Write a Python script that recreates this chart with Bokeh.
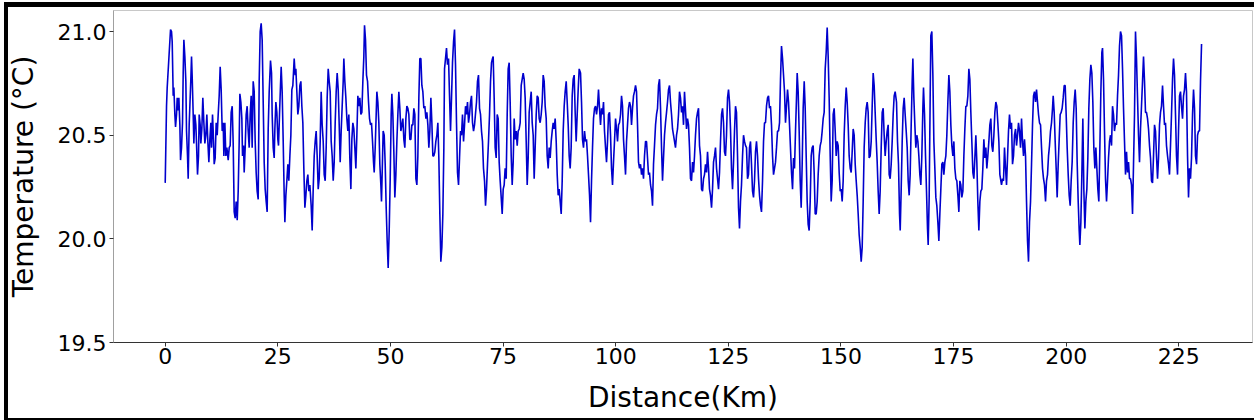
from bokeh.plotting import figure
from bokeh.models import FixedTicker, PrintfTickFormatter, Range1d
from bokeh.embed import file_html
from bokeh.resources import INLINE

# Distance (km) / temperature (deg C), segment by segment
dist_a = [0.0,0.29,0.44,0.81,1.18,1.40,1.55,1.77,1.92,2.14,2.29,2.51,2.66,2.88,3.03,3.25,3.40,3.62,3.84,3.99,4.14,4.36,4.58,4.73,4.95,5.10,5.32,5.47,5.69,5.84,5.99,6.21,6.36,6.58,6.80,6.95,7.17,7.39,7.54,7.76,7.91,8.13,8.35,8.58,8.80,9.02,9.24,9.46,9.69,9.91,10.13,10.28,10.50,10.65,10.87,11.09,11.31,11.54,11.76,11.98,12.20,12.42,12.65,12.87,13.02,13.24,13.46,13.68,13.98,14.20,14.42,14.64,14.87,15.09,15.31,15.53,15.75,15.98,16.20,16.42,16.57,16.79,17.01,17.16,17.38,17.53,17.75,17.97,18.19,18.42,18.64,18.86,19.08,19.30,19.53,19.75,19.97,20.19,20.41,20.64,20.86,21.08,21.30,21.52,21.75,21.97,22.19,22.41,22.63,22.86,23.08]
temp_a = [20.27,20.64,20.73,20.87,21.01,21.00,20.95,20.69,20.73,20.60,20.54,20.60,20.68,20.62,20.68,20.55,20.38,20.44,20.56,20.80,20.96,20.88,20.76,20.52,20.40,20.29,20.55,20.64,20.77,20.88,20.78,20.60,20.46,20.60,20.55,20.46,20.31,20.40,20.60,20.55,20.46,20.53,20.68,20.56,20.46,20.50,20.60,20.47,20.37,20.48,20.56,20.44,20.60,20.52,20.36,20.39,20.56,20.50,20.60,20.69,20.83,20.72,20.52,20.56,20.40,20.56,20.40,20.44,20.38,20.44,20.45,20.61,20.64,20.46,20.13,20.10,20.18,20.09,20.23,20.47,20.70,20.66,20.58,20.40,20.45,20.32,20.44,20.60,20.64,20.52,20.44,20.60,20.69,20.44,20.76,20.71,20.47,20.32,20.23,20.19,20.76,21.00,21.04,20.96,20.66,20.37,20.24,20.18,20.13,20.53,20.71]

dist_b = [23.37,23.60,23.74,23.97,24.19,24.34,24.56,24.78,25.00,25.15,25.37,25.59,25.74,25.96,26.19,26.41,26.56,26.78,27.00,27.22,27.44,27.67,27.89,28.11,28.33,28.63,28.85,29.00,29.22,29.44,29.66,29.89,30.11,30.33,30.55,30.77,31.00,31.22,31.44,31.66,31.88,32.11,32.40,32.62,32.85,33.07,33.29,33.51,33.73,33.96,34.18,34.40,34.62,34.84,35.07,35.29,35.51,35.73,35.95,36.18,36.40,36.62,36.84,37.06,37.29,37.51,37.73,37.95,38.17,38.40,38.62,38.84,39.06,39.28,39.51,39.65,39.87,40.10,40.32,40.54,40.76,40.98,41.21,41.43,41.65,41.87,42.09,42.32,42.54,42.76,42.98,43.20,43.43,43.65,43.87,44.09,44.24,44.46,44.68,44.91,45.13,45.35,45.57]
temp_b = [20.86,20.80,20.60,20.44,20.39,20.53,20.66,20.61,20.48,20.45,20.60,20.74,20.83,20.71,20.47,20.21,20.08,20.21,20.28,20.36,20.28,20.40,20.50,20.72,20.74,20.87,20.79,20.82,20.71,20.60,20.64,20.74,20.76,20.64,20.56,20.34,20.15,20.21,20.28,20.31,20.23,20.26,20.16,20.04,20.24,20.40,20.47,20.52,20.40,20.24,20.29,20.47,20.71,20.55,20.47,20.31,20.28,20.44,20.68,20.82,20.76,20.71,20.47,20.40,20.28,20.37,20.56,20.71,20.80,20.72,20.55,20.37,20.52,20.64,20.76,20.87,20.76,20.68,20.58,20.52,20.60,20.39,20.24,20.48,20.56,20.53,20.44,20.34,20.50,20.69,20.64,20.68,20.60,20.61,20.76,20.88,21.03,20.96,20.79,20.76,20.66,20.58,20.55]

dist_c = [45.79,46.02,46.24,46.39,46.61,46.83,46.98,47.20,47.42,47.64,47.87,48.01,48.24,48.38,48.61,48.83,49.05,49.27,49.49,49.72,49.94,50.16,50.31,50.53,50.75,50.97,51.20,51.42,51.64,51.86,52.08,52.31,52.53,52.75,52.97,53.19,53.42,53.64,53.86,54.08,54.30,54.53,54.75,54.97,55.19,55.41,55.64,55.86,56.08,56.30,56.52,56.75,56.97,57.19,57.41,57.63,57.86,58.08,58.30,58.52,58.74,58.97,59.19,59.41,59.63,59.85,60.07,60.30,60.52,60.74,60.96,61.18,61.41,61.63,61.85,62.00,62.22,62.44,62.66,62.89,63.11,63.33,63.55,63.77,64.00,64.22,64.44,64.66,64.88,65.11,65.33,65.55,65.77,65.99,66.22,66.44,66.66,66.88,67.10,67.33,67.55,67.77,67.99,68.21,68.44,68.66]
temp_c = [20.56,20.47,20.37,20.32,20.44,20.60,20.71,20.66,20.56,20.36,20.26,20.18,20.39,20.52,20.50,20.36,20.15,19.99,19.86,20.04,20.29,20.60,20.70,20.60,20.42,20.20,20.31,20.47,20.60,20.71,20.63,20.52,20.55,20.58,20.48,20.44,20.58,20.64,20.63,20.60,20.48,20.48,20.55,20.55,20.63,20.60,20.29,20.26,20.40,20.68,20.87,20.87,20.74,20.71,20.63,20.64,20.58,20.61,20.55,20.44,20.52,20.68,20.56,20.40,20.40,20.42,20.47,20.50,20.56,20.39,20.12,19.89,19.96,20.12,20.44,20.82,20.87,20.92,20.84,20.87,20.69,20.52,20.68,20.85,20.95,21.01,20.84,20.56,20.32,20.26,20.39,20.52,20.50,20.60,20.47,20.55,20.64,20.60,20.66,20.56,20.60,20.66,20.69,20.56,20.52,20.55]

dist_d = [69.10,69.32,69.54,69.77,69.99,70.21,70.43,70.65,70.88,71.10,71.32,71.54,71.76,71.99,72.21,72.43,72.65,72.80,73.02,73.24,73.47,73.69,73.91,74.13,74.35,74.58,74.80,75.02,75.24,75.46,75.69,75.91,76.13,76.35,76.57,76.80,77.02,77.24,77.46,77.68,77.91,78.13,78.35,78.57,78.79,79.02,79.24,79.46,79.68,79.90,80.13,80.35,80.57,80.79,81.01,81.24,81.46,81.68,81.90,82.12,82.35,82.57,82.79,83.01,83.23,83.46,83.68,83.90,84.12,84.34,84.57,84.79,85.01,85.23,85.45,85.68,85.90,86.12,86.34,86.56,86.79,87.01,87.23,87.45,87.67,87.90,88.12,88.34,88.56,88.78,89.01,89.23,89.45,89.67,89.89,90.11,90.34,90.56,90.78,91.00,91.22,91.45,91.67,91.89]
temp_d = [20.66,20.76,20.79,20.63,20.60,20.52,20.47,20.34,20.28,20.16,20.24,20.36,20.47,20.60,20.76,20.85,20.87,20.88,20.68,20.44,20.39,20.60,20.58,20.37,20.28,20.20,20.12,20.24,20.26,20.34,20.29,20.60,20.82,20.85,20.66,20.40,20.26,20.37,20.58,20.48,20.52,20.45,20.52,20.53,20.56,20.74,20.77,20.80,20.77,20.68,20.47,20.26,20.39,20.61,20.66,20.71,20.56,20.50,20.29,20.44,20.60,20.69,20.68,20.58,20.56,20.60,20.66,20.79,20.76,20.64,20.58,20.40,20.34,20.44,20.39,20.47,20.52,20.56,20.53,20.58,20.47,20.31,20.21,20.24,20.18,20.12,20.28,20.52,20.64,20.71,20.76,20.66,20.55,20.40,20.34,20.44,20.69,20.77,20.79,20.61,20.47,20.60,20.72,20.82]

dist_e = [92.19,92.41,92.63,92.85,93.08,93.30,93.52,93.74,93.96,94.19,94.41,94.63,94.85,95.07,95.30,95.52,95.74,95.96,96.18,96.40,96.63,96.85,97.07,97.29,97.51,97.74,97.96,98.18,98.40,98.62,98.85,99.07,99.29,99.51,99.73,99.96,100.18,100.40,100.62,100.84,101.07,101.29,101.51,101.73,101.95,102.18,102.40,102.62,102.84,103.06,103.29,103.51,103.73,103.95,104.17,104.40,104.62,104.84,105.06,105.28,105.51,105.73,105.95,106.17,106.39,106.62,106.84,107.06,107.28,107.50,107.73,107.95,108.17,108.39,108.61,108.84,109.06,109.28,109.50,109.72,109.95,110.17,110.39,110.61,110.83,111.05,111.28,111.50,111.72,111.94,112.16,112.39,112.61,112.83,113.05,113.27,113.50,113.72,113.94,114.16,114.38,114.61,114.83,115.05,115.27]
temp_e = [20.80,20.66,20.48,20.44,20.52,20.47,20.48,20.40,20.31,20.21,20.08,20.28,20.44,20.58,20.63,20.64,20.60,20.64,20.72,20.63,20.55,20.63,20.60,20.66,20.52,20.44,20.37,20.47,20.60,20.61,20.50,20.34,20.26,20.37,20.47,20.58,20.53,20.47,20.55,20.56,20.60,20.69,20.64,20.48,20.40,20.31,20.47,20.55,20.63,20.66,20.64,20.55,20.63,20.69,20.71,20.74,20.71,20.55,20.37,20.34,20.36,20.31,20.34,20.29,20.40,20.47,20.47,20.39,20.31,20.32,20.26,20.23,20.16,20.36,20.45,20.55,20.60,20.63,20.74,20.77,20.63,20.44,20.28,20.39,20.50,20.56,20.61,20.66,20.72,20.74,20.66,20.60,20.53,20.50,20.47,20.44,20.50,20.53,20.60,20.71,20.68,20.61,20.64,20.55,20.71]

dist_f = [115.72,115.94,116.16,116.38,116.60,116.83,117.05,117.27,117.49,117.71,117.94,118.16,118.38,118.60,118.82,119.05,119.27,119.49,119.71,119.93,120.16,120.38,120.60,120.82,121.04,121.27,121.49,121.71,121.93,122.15,122.38,122.60,122.82,123.04,123.26,123.49,123.71,123.93,124.15,124.37,124.59,124.82,125.04,125.26,125.48,125.70,125.93,126.15,126.37,126.59,126.81,127.04,127.26,127.48,127.70,127.92,128.15,128.37,128.59,128.81,129.03,129.26,129.48,129.70,129.92,130.14,130.37,130.59,130.81,131.03,131.25,131.48,131.70,131.92,132.14,132.36,132.59,132.81,133.03,133.25,133.47,133.70,133.92,134.14,134.36,134.58,134.81,135.03,135.25,135.47,135.69,135.92,136.14,136.36,136.58,136.80,137.03,137.25,137.47,137.69,137.91,138.14,138.36,138.58]
temp_f = [20.53,20.58,20.55,20.44,20.29,20.28,20.37,20.32,20.40,20.50,20.58,20.61,20.63,20.45,20.40,20.24,20.23,20.29,20.31,20.36,20.32,20.42,20.34,20.24,20.21,20.15,20.24,20.37,20.40,20.44,20.34,20.29,20.24,20.32,20.47,20.60,20.63,20.56,20.42,20.40,20.50,20.68,20.72,20.66,20.53,20.34,20.24,20.37,20.52,20.64,20.61,20.40,20.15,20.05,20.18,20.26,20.40,20.50,20.47,20.45,20.44,20.29,20.31,20.44,20.47,20.36,20.23,20.20,20.28,20.42,20.47,20.40,20.29,20.21,20.16,20.13,20.28,20.47,20.56,20.56,20.64,20.68,20.69,20.63,20.64,20.55,20.40,20.31,20.34,20.37,20.44,20.52,20.52,20.56,20.77,20.93,20.87,20.79,20.71,20.56,20.64,20.72,20.66,20.55]

dist_g = [139.02,139.25,139.47,139.69,139.91,140.13,140.28,140.50,140.72,140.95,141.17,141.39,141.61,141.84,142.06,142.28,142.50,142.72,142.94,143.17,143.39,143.61,143.83,144.05,144.28,144.50,144.72,144.94,145.16,145.39,145.61,145.83,146.05,146.27,146.50,146.72,146.94,147.16,147.38,147.61,147.83,148.05,148.27,148.49,148.72,148.94,149.16,149.38,149.60,149.83,150.05,150.27,150.49,150.71,150.94,151.16,151.38,151.60,151.82,152.05,152.27,152.49,152.71,152.93,153.16,153.38,153.60,153.82,154.04,154.27,154.49,154.71,154.93,155.15,155.38,155.60,155.82,156.04,156.26,156.49,156.71,156.93,157.15,157.37,157.59,157.82,158.04,158.26,158.48,158.70,158.93,159.15,159.37,159.59,159.81,160.04,160.26,160.48,160.70,160.92,161.15,161.37,161.59,161.81,162.03]
temp_g = [20.32,20.24,20.39,20.34,20.52,20.68,20.80,20.71,20.52,20.28,20.15,20.36,20.63,20.76,20.63,20.40,20.18,20.07,20.04,20.18,20.40,20.44,20.45,20.32,20.12,20.12,20.18,20.31,20.40,20.45,20.47,20.52,20.58,20.61,20.82,20.90,21.02,20.88,20.68,20.40,20.18,20.28,20.60,20.63,20.52,20.40,20.47,20.45,20.32,20.23,20.24,20.18,20.28,20.50,20.64,20.73,20.66,20.55,20.40,20.34,20.32,20.42,20.53,20.50,20.36,20.28,20.21,20.12,20.02,19.96,19.89,19.96,20.18,20.44,20.56,20.63,20.66,20.61,20.39,20.40,20.47,20.64,20.80,20.74,20.61,20.48,20.37,20.23,20.12,20.23,20.44,20.61,20.63,20.50,20.40,20.47,20.52,20.55,20.31,20.29,20.36,20.47,20.60,20.69,20.71]

dist_h = [162.33,162.55,162.77,163.00,163.15,163.37,163.59,163.81,164.03,164.25,164.48,164.70,164.92,165.14,165.36,165.59,165.81,165.96,166.18,166.40,166.62,166.84,167.07,167.29,167.51,167.73,167.95,168.18,168.32,168.55,168.77,168.99,169.21,169.36,169.58,169.80,169.95,170.17,170.40,170.62,170.84,171.06,171.28,171.51,171.73,171.95,172.17,172.39,172.62,172.84,173.06,173.28,173.50,173.73,173.95,174.17,174.39,174.61,174.84,175.06,175.28,175.50,175.72,175.95,176.17,176.39,176.61,176.83,177.06,177.28,177.50,177.72,177.94,178.17,178.39,178.61,178.83,179.05,179.28,179.50,179.72,179.94,180.16,180.38,180.61,180.83,181.05,181.27,181.49,181.72,181.94,182.16,182.38,182.60,182.83,183.05,183.27,183.49,183.71,183.94,184.16,184.38,184.60,184.82,185.05,185.27]
temp_h = [20.66,20.47,20.36,20.12,20.04,20.24,20.47,20.63,20.68,20.60,20.52,20.44,20.28,20.21,20.31,20.55,20.76,20.87,20.68,20.55,20.44,20.50,20.47,20.40,20.31,20.26,20.40,20.63,20.73,20.60,20.40,20.23,20.05,19.97,20.20,20.68,20.98,21.00,20.79,20.47,20.34,20.20,20.16,20.08,19.99,20.12,20.24,20.36,20.37,20.31,20.37,20.40,20.50,20.66,20.79,20.71,20.55,20.45,20.40,20.47,20.34,20.29,20.28,20.21,20.13,20.28,20.26,20.20,20.23,20.40,20.53,20.64,20.64,20.69,20.82,20.77,20.61,20.47,20.32,20.29,20.39,20.50,20.37,20.18,20.04,20.18,20.23,20.24,20.34,20.48,20.39,20.44,20.34,20.40,20.47,20.55,20.58,20.45,20.42,20.50,20.61,20.66,20.64,20.56,20.47,20.31]

dist_i = [185.64,185.86,186.08,186.30,186.53,186.75,186.97,187.19,187.41,187.64,187.86,188.08,188.30,188.52,188.75,188.97,189.19,189.41,189.63,189.86,190.08,190.30,190.52,190.74,190.97,191.19,191.41,191.63,191.85,192.08,192.30,192.52,192.74,192.96,193.19,193.41,193.63,193.85,194.07,194.30,194.52,194.74,194.96,195.18,195.41,195.63,195.85,196.07,196.29,196.51,196.74,196.96,197.11,197.33,197.55,197.77,197.99,198.22,198.44,198.66,198.88,199.10,199.33,199.55,199.77,199.99,200.21,200.44,200.66,200.88,201.10,201.32,201.55,201.77,201.99,202.21,202.43,202.66,202.88,203.03,203.25,203.47,203.69,203.91,204.14,204.36,204.58,204.80,205.02,205.25,205.47,205.69,205.91,206.13,206.36,206.58,206.80,207.02,207.24,207.47,207.69,207.91,208.06]
temp_i = [20.26,20.29,20.28,20.44,20.34,20.26,20.39,20.52,20.60,20.53,20.56,20.36,20.40,20.50,20.53,20.45,20.50,20.56,20.52,20.44,20.58,20.47,20.40,20.48,20.40,20.18,19.99,19.89,20.08,20.18,20.36,20.55,20.69,20.71,20.66,20.72,20.66,20.60,20.56,20.55,20.44,20.34,20.29,20.26,20.18,20.28,20.31,20.40,20.45,20.52,20.56,20.63,20.69,20.61,20.47,20.34,20.20,20.36,20.48,20.60,20.61,20.63,20.68,20.74,20.74,20.60,20.44,20.31,20.21,20.16,20.28,20.37,20.56,20.66,20.72,20.63,20.37,20.18,20.04,19.97,20.08,20.31,20.58,20.24,20.05,20.18,20.24,20.39,20.63,20.77,20.84,20.80,20.66,20.44,20.34,20.44,20.34,20.24,20.18,20.44,20.71,20.90,20.92]

dist_j = [208.28,208.50,208.72,208.95,209.17,209.39,209.61,209.83,210.06,210.28,210.50,210.72,210.94,211.17,211.39,211.61,211.83,212.05,212.28,212.50,212.72,212.94,213.16,213.39,213.61,213.83,214.05,214.27,214.49,214.72,214.94,215.16,215.38,215.60,215.83,216.05,216.27,216.49,216.71,216.94,217.16,217.38,217.60,217.82,218.05,218.27,218.49,218.71,218.93,219.16,219.38,219.60,219.82,220.04,220.27,220.49,220.71,220.93,221.15,221.38,221.60,221.82,222.04,222.26,222.49,222.71,222.93,223.15,223.37,223.60,223.82,224.04,224.26,224.48,224.71,224.93,225.15,225.37,225.59,225.82,226.04,226.26,226.48,226.70,226.93,227.15,227.37,227.59,227.81,228.04,228.26,228.48,228.70,228.93,229.15,229.37,229.59,229.81,230.04]
temp_j = [20.77,20.52,20.29,20.18,20.28,20.39,20.47,20.50,20.45,20.64,20.60,20.52,20.56,20.55,20.69,20.79,20.93,21.00,20.98,20.82,20.63,20.47,20.31,20.42,20.32,20.37,20.29,20.29,20.26,20.12,20.36,20.60,21.00,20.87,20.68,20.50,20.37,20.53,20.64,20.76,20.88,20.76,20.61,20.61,20.58,20.53,20.45,20.39,20.28,20.27,20.40,20.55,20.52,20.40,20.29,20.39,20.55,20.61,20.64,20.74,20.64,20.55,20.56,20.45,20.40,20.36,20.31,20.45,20.60,20.77,20.87,20.79,20.60,20.40,20.31,20.52,20.69,20.71,20.64,20.58,20.69,20.72,20.80,20.71,20.40,20.20,20.34,20.29,20.39,20.60,20.72,20.63,20.40,20.36,20.50,20.52,20.52,20.76,20.94]

x_ticks = [0, 25, 50, 75, 100, 125, 150, 175, 200, 225]
y_ticks = [19.5, 20.0, 20.5, 21.0]
x_label = "Distance(Km)"
y_label = "Temperature (°C)"

distance = []
temperature = []
for d, t in [(dist_a, temp_a), (dist_b, temp_b), (dist_c, temp_c), (dist_d, temp_d),
             (dist_e, temp_e), (dist_f, temp_f), (dist_g, temp_g), (dist_h, temp_h),
             (dist_i, temp_i), (dist_j, temp_j)]:
    n = min(len(d), len(t))
    distance.extend(d[:n])
    temperature.extend(t[:n])

FONT = "DejaVu Sans"

p = figure(width=1254, height=420, output_backend="svg", toolbar_location=None,
           x_range=Range1d(-11.48, 241.35), y_range=Range1d(19.5, 21.1016),
           min_border_left=113, min_border_right=2, min_border_top=10, min_border_bottom=78)
p.background_fill_color = "white"
p.border_fill_color = None
p.outline_line_color = "#c8c8c8"
p.outline_line_width = 1
p.xgrid.visible = False
p.ygrid.visible = False

p.line(distance, temperature, line_color="#0000cd", line_width=1.6)

for ax in (p.xaxis[0], p.yaxis[0]):
    ax.major_label_text_font = FONT
    ax.major_label_text_font_size = "22px"
    ax.major_label_text_color = "black"
    ax.axis_label_text_font = FONT
    ax.axis_label_text_font_size = "28px"
    ax.axis_label_text_font_style = "normal"
    ax.axis_label_text_color = "black"
    ax.minor_tick_line_color = None
    ax.major_tick_in = 0
    ax.major_tick_out = 4
    ax.major_tick_line_color = "#333333"

p.xaxis.ticker = FixedTicker(ticks=x_ticks)
p.yaxis.ticker = FixedTicker(ticks=y_ticks)
p.yaxis.formatter = PrintfTickFormatter(format="%.1f")
p.xaxis.axis_label = x_label
p.yaxis.axis_label = y_label
p.xaxis.axis_line_color = "#333333"
p.yaxis.axis_line_color = "#a0a0a0"
p.xaxis.major_label_standoff = 1
p.yaxis.major_label_standoff = 3
p.xaxis.axis_label_standoff = 14
p.yaxis.axis_label_standoff = 15

# thick black page frame (top, left, bottom) drawn inside the page box
p.styles = {
    "background-color": "white",
    "box-shadow": "inset 4px 2px 0 0 white, inset 8px 7px 0 0 black, inset 0 -2px 0 0 black",
}

open("out.html", "w").write(file_html(p, INLINE))
